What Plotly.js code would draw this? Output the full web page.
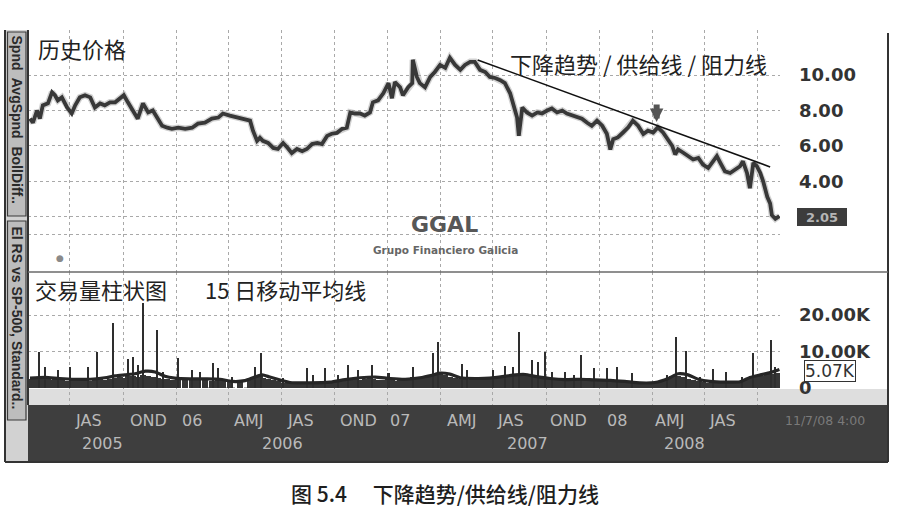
<!DOCTYPE html>
<html>
<head>
<meta charset="utf-8">
<script src="https://cdn.plot.ly/plotly-3.0.1.min.js"></script>
<style>html,body{margin:0;padding:0;background:#fff;}#chart{width:899px;height:532px;}</style>
</head>
<body>
<div id="chart"></div>
<script>
// ---- Price (GGAL) ----
const priceDates = ['2005-04-23','2005-04-28','2005-05-05','2005-05-10','2005-05-15','2005-05-24','2005-05-31','2005-06-05','2005-06-10','2005-06-17','2005-06-26','2005-07-04','2005-07-10','2005-07-18','2005-07-27','2005-08-05','2005-08-13','2005-08-22','2005-08-30','2005-09-08','2005-09-17','2005-09-25','2005-10-02','2005-10-09','2005-10-18','2005-10-26','2005-11-04','2005-11-13','2005-11-21','2005-11-30','2005-12-07','2005-12-16','2005-12-24','2006-01-04','2006-01-16','2006-01-28','2006-02-07','2006-02-19','2006-03-03','2006-03-14','2006-03-22','2006-04-03','2006-04-21','2006-05-08','2006-05-13','2006-05-20','2006-05-25','2006-05-30','2006-06-08','2006-06-17','2006-06-25','2006-07-04','2006-07-12','2006-07-19','2006-07-28','2006-08-06','2006-08-14','2006-08-23','2006-09-01','2006-09-09','2006-09-18','2006-09-26','2006-10-05','2006-10-14','2006-10-22','2006-10-28','2006-11-05','2006-11-14','2006-11-22','2006-12-01','2006-12-06','2006-12-15','2006-12-24','2007-01-02','2007-01-08','2007-01-13','2007-01-22','2007-01-27','2007-02-05','2007-02-12','2007-02-13','2007-02-20','2007-02-25','2007-03-06','2007-03-15','2007-03-23','2007-04-01','2007-04-10','2007-04-18','2007-04-27','2007-05-06','2007-05-14','2007-05-23','2007-05-31','2007-06-09','2007-06-18','2007-06-26','2007-07-05','2007-07-14','2007-07-22','2007-07-31','2007-08-05','2007-08-12','2007-08-15','2007-08-21','2007-08-29','2007-09-07','2007-09-16','2007-09-24','2007-10-03','2007-10-11','2007-10-20','2007-10-29','2007-11-06','2007-11-15','2007-11-24','2007-12-02','2007-12-11','2007-12-19','2007-12-28','2008-01-06','2008-01-14','2008-01-20','2008-01-25','2008-02-02','2008-02-11','2008-02-20','2008-02-28','2008-03-08','2008-03-17','2008-03-25','2008-04-03','2008-04-11','2008-04-20','2008-04-29','2008-05-06','2008-05-11','2008-05-16','2008-05-25','2008-06-02','2008-06-11','2008-06-20','2008-06-28','2008-07-07','2008-07-15','2008-07-22','2008-07-28','2008-08-05','2008-08-14','2008-08-22','2008-08-31','2008-09-05','2008-09-12','2008-09-17','2008-09-23','2008-09-29','2008-10-05','2008-10-10','2008-10-17','2008-10-22','2008-10-25','2008-10-31','2008-11-07'];
const priceValues = [7.54,7.31,8.00,7.54,8.29,8.40,9.03,8.86,8.57,8.74,8.17,7.83,8.29,8.74,8.86,8.74,8.17,8.40,8.29,8.46,8.46,8.69,8.86,8.46,8.00,7.54,8.40,7.89,8.00,7.54,7.14,7.03,6.97,7.03,6.97,7.03,7.26,7.31,7.54,7.60,7.83,7.71,7.54,7.43,6.86,6.29,6.46,6.29,6.17,5.89,5.83,6.17,5.89,5.60,5.83,5.71,5.83,6.11,6.17,6.11,6.57,6.69,6.74,6.97,7.03,7.89,7.83,7.83,7.71,7.89,8.46,8.57,8.97,9.54,8.69,9.60,9.31,8.86,9.31,9.54,10.86,9.89,9.54,9.31,9.89,10.17,10.57,10.40,10.97,10.57,10.29,10.57,10.74,10.74,10.29,10.17,9.89,9.83,9.71,9.54,8.97,8.40,7.60,6.57,8.17,7.89,7.71,7.89,7.83,8.00,8.11,7.89,8.00,7.83,7.71,7.60,7.54,7.31,7.14,7.43,7.14,6.69,5.80,6.38,6.48,6.76,7.05,7.43,7.14,6.67,6.86,6.76,7.05,6.76,6.29,6.00,5.52,5.81,5.62,5.43,5.24,5.33,4.95,4.76,5.14,5.43,5.05,4.57,4.48,4.67,4.86,5.14,4.48,3.62,5.05,4.86,4.48,4.00,3.14,2.76,2.10,1.90,2.05];

// ---- Volume (thousands of shares), typical level per period ----
const baseVolK = [2.4,2.8,3.0,2.6,2.9,2.5,2.2,2.6,2.4,2.2,2.0,2.3,2.1,2.4,2.2,2.0,2.3,2.5,2.2,2.6,2.8,3.0,2.7,3.2,3.4,3.0,3.6,3.3,3.1,2.8,2.6,2.4,2.2,2.6,2.3,2.1,2.4,2.2,2.0,2.3,1.9,1.6,1.8,2.2,2.6,3.0,3.2,2.8,2.6,2.2,1.8,1.5,1.3,1.2,1.3,1.2,1.4,1.2,1.3,1.4,1.5,1.6,1.8,2.0,2.3,2.6,2.4,2.2,2.5,2.7,2.5,2.3,2.1,2.4,2.2,2.0,2.3,2.5,2.7,2.6,3.0,2.8,2.6,2.9,3.2,3.6,3.9,3.5,3.0,2.7,2.5,2.4,2.2,2.3,2.5,2.4,2.6,2.8,3.0,3.2,3.4,3.6,3.8,3.6,3.4,3.2,3.0,2.8,2.6,2.4,2.3,2.2,2.1,2.2,2.3,2.1,2.4,2.2,2.0,2.1,2.3,2.2,2.4,2.2,2.0,1.8,1.6,1.5,1.3,1.2,1.3,1.4,1.6,2.2,2.8,3.2,3.4,3.2,3.0,2.6,2.2,1.8,1.6,1.4,1.5,1.3,1.4,1.3,1.4,1.3,1.5,1.8,2.4,3.0,3.2,3.0,3.2,3.4,3.6,3.8,3.5,3.8,4.0];

// ---- Volume peak days ----
const spikeDates = ['2005-05-08','2005-05-19','2005-06-10','2005-07-01','2005-08-01','2005-08-17','2005-09-13','2005-10-09','2005-10-18','2005-10-26','2005-11-04','2005-11-28','2005-12-09','2006-01-04','2006-01-28','2006-02-11','2006-03-05','2006-03-14','2006-04-07','2006-05-16','2006-05-27','2006-07-04','2006-08-14','2006-08-25','2006-09-14','2006-10-07','2006-10-24','2006-11-10','2006-12-05','2007-01-02','2007-02-13','2007-03-20','2007-03-29','2007-05-09','2007-05-18','2007-07-02','2007-07-22','2007-08-05','2007-08-15','2007-09-07','2007-09-17','2007-09-29','2007-10-11','2007-11-03','2007-11-18','2007-11-30','2007-12-23','2008-01-14','2008-02-01','2008-02-27','2008-04-27','2008-05-13','2008-05-30','2008-06-23','2008-07-15','2008-08-07','2008-09-04','2008-09-23','2008-10-24','2008-10-31'];
const spikeK = [9.9,5.8,4.9,5.8,5.8,9.9,17.8,7.9,8.5,6.3,23.3,15.9,4.4,8.2,4.9,4.4,6.8,5.5,3.0,5.8,9.6,2.7,5.5,3.6,5.5,3.6,6.3,4.9,6.3,4.1,5.8,9.6,12.6,6.6,4.9,4.9,6.0,5.8,15.3,7.7,7.1,9.9,4.4,4.4,3.6,9.0,5.5,5.5,5.8,4.1,3.6,14.0,10.1,3.0,5.2,4.4,3.0,9.6,13.2,5.8];

// ---- 15-day moving average of volume ----
const maDates = ['2005-04-23','2005-05-19','2005-06-13','2005-07-10','2005-08-05','2005-08-30','2005-09-17','2005-10-04','2005-10-21','2005-11-08','2005-11-25','2005-12-12','2005-12-29','2006-01-24','2006-02-19','2006-03-17','2006-04-07','2006-04-29','2006-05-16','2006-05-29','2006-06-11','2006-06-29','2006-07-16','2006-08-19','2006-09-23','2006-10-19','2006-11-14','2006-12-10','2007-01-05','2007-01-31','2007-02-25','2007-03-18','2007-04-01','2007-04-18','2007-05-06','2007-05-31','2007-06-26','2007-07-22','2007-08-09','2007-08-26','2007-09-12','2007-10-08','2007-11-03','2007-11-29','2007-12-25','2008-01-20','2008-02-14','2008-03-11','2008-04-06','2008-04-29','2008-05-16','2008-06-02','2008-06-20','2008-07-10','2008-08-05','2008-08-31','2008-09-17','2008-10-05','2008-10-22','2008-11-07'];
const maK = [2.7,2.9,2.6,2.4,2.4,2.8,3.3,3.6,3.9,4.6,4.4,3.2,2.7,2.5,2.5,2.4,1.8,2.0,3.0,3.6,3.0,2.2,1.5,1.4,1.6,2.3,2.8,3.0,2.6,2.4,2.8,3.5,4.1,3.8,2.8,2.6,2.7,3.2,3.6,3.7,3.2,2.6,2.3,2.4,2.2,2.1,1.8,1.4,1.5,2.6,3.9,3.6,2.4,1.8,1.6,1.7,2.9,3.6,4.2,5.07];

// ---- Downtrend / supply / resistance line ----
const trendDates = ['2007-06-05','2008-10-22'];
const trendValues = [10.85, 4.82];

// ---- Axis labels ----
const priceTicks = [1, 2, 4, 6, 8, 10];
const priceTickText = ['', '', '4.00', '6.00', '8.00', '10.00'];
const volTicks = [0, 10, 20];
const volTickText = ['0', '10.00K', '20.00K'];
const quarterLabels = ['JAS','OND','06','AMJ','JAS','OND','07','AMJ','JAS','OND','08','AMJ','JAS'];
const quarterLabelDates = ['2005-07-06','2005-10-09','2006-01-07','2006-04-07','2006-07-07','2006-10-07','2007-01-01','2007-04-10','2007-07-05','2007-10-04','2008-01-11','2008-04-03','2008-07-05'];
const yearLabels = ['2005','2006','2007','2008'];
const yearLabelDates = ['2005-07-18','2006-05-25','2007-07-22','2008-04-18'];
const lastPrice = 2.05;
const lastMA = 5.07;

const W = 899, H = 532;
const px = x => x / W;
const py = y => 1 - y / H;
const CJK = '"Noto Sans CJK SC", "Noto Sans CJK JP", sans-serif';
const DV = '"DejaVu Sans", sans-serif';
const LIB = '"Liberation Sans", Arial, sans-serif';

const traces = [
  { type: 'bar', x: priceDates, y: baseVolK, yaxis: 'y2', width: 11 * 86400000,
    marker: { color: '#363636', line: { width: 0 } }, hoverinfo: 'x+y' },
  { type: 'bar', x: spikeDates, y: spikeK, yaxis: 'y2', width: 3.5 * 86400000,
    marker: { color: '#2e2e2e', line: { width: 0 } }, hoverinfo: 'x+y' },
  { type: 'scatter', mode: 'lines', x: maDates, y: maK, yaxis: 'y2',
    line: { color: '#262626', width: 3.2, shape: 'spline', smoothing: 0.6 } },
  { type: 'scatter', mode: 'lines', x: priceDates, y: priceValues, yaxis: 'y',
    line: { color: '#9a9a9a', width: 6.5 }, opacity: 0.45, hoverinfo: 'skip' },
  { type: 'scatter', mode: 'lines', x: priceDates, y: priceValues, yaxis: 'y',
    line: { color: '#383838', width: 3.8 } },
  { type: 'scatter', mode: 'lines', x: trendDates, y: trendValues, yaxis: 'y',
    line: { color: '#111', width: 1.6 } }
];

const annotations = [
  { xref: 'paper', yref: 'paper', x: px(36), y: py(48), xanchor: 'left', yanchor: 'middle', showarrow: false,
    text: '历史价格', font: { family: CJK, size: 22, color: '#222' } },
  { xref: 'paper', yref: 'paper', x: px(508), y: py(63), xanchor: 'left', yanchor: 'middle', showarrow: false,
    text: '下降趋势 / 供给线 / 阻力线', font: { family: CJK, size: 22, color: '#222' } },
  { xref: 'paper', yref: 'paper', x: px(33), y: py(289), xanchor: 'left', yanchor: 'middle', showarrow: false,
    text: '交易量柱状图', font: { family: CJK, size: 22, color: '#222' } },
  { xref: 'paper', yref: 'paper', x: px(203), y: py(289), xanchor: 'left', yanchor: 'middle', showarrow: false,
    text: '15 日移动平均线', font: { family: CJK, size: 22, color: '#222' } },
  { xref: 'paper', yref: 'paper', x: px(444), y: py(225), xanchor: 'center', yanchor: 'middle', showarrow: false,
    text: 'GGAL', font: { family: DV, size: 22, color: '#575757', weight: 'bold' } },
  { xref: 'paper', yref: 'paper', x: px(445), y: py(250), xanchor: 'center', yanchor: 'middle', showarrow: false,
    text: 'Grupo Financiero Galicia', font: { family: DV, size: 10.5, color: '#666', weight: 'bold' } },
  { xref: 'paper', yref: 'paper', x: px(822), y: py(217), xanchor: 'center', yanchor: 'middle', showarrow: false,
    text: lastPrice.toFixed(2), bgcolor: '#3c3c3c', bordercolor: '#3c3c3c', borderpad: 1, width: 46, height: 14,
    font: { family: DV, size: 13, color: '#b5b5b5', weight: 'bold' } },
  { xref: 'paper', yref: 'paper', x: px(830), y: py(371), xanchor: 'center', yanchor: 'middle', showarrow: false,
    text: lastMA.toFixed(2) + 'K', bgcolor: '#fff', bordercolor: '#333', borderwidth: 1, borderpad: 0,
    font: { family: DV, size: 17, color: '#333' } },
  { xref: 'x', yref: 'y', x: '2008-04-09', y: 7.35, ax: 0, ay: -19, showarrow: true, text: '',
    arrowhead: 2, arrowsize: 0.45, arrowwidth: 6, arrowcolor: '#555' },
  { xref: 'paper', yref: 'paper', x: px(60), y: py(258), xanchor: 'center', yanchor: 'middle', showarrow: false,
    text: '●', font: { family: DV, size: 9, color: '#8a8a8a' } },
  { xref: 'paper', yref: 'paper', x: px(783), y: py(420), xanchor: 'left', yanchor: 'middle', showarrow: false,
    text: '11/7/08 4:00', font: { family: DV, size: 12.5, color: '#7a7a7a' } },
  { xref: 'paper', yref: 'paper', x: px(16.5), y: py(120), xanchor: 'center', yanchor: 'middle', showarrow: false,
    textangle: 90, text: 'Spnd  AvgSpnd  BollDiff..', font: { family: LIB, size: 14, color: '#2a2a2a', weight: 'bold' } },
  { xref: 'paper', yref: 'paper', x: px(16.5), y: py(318), xanchor: 'center', yanchor: 'middle', showarrow: false,
    textangle: 90, text: 'El RS vs SP-500, Standard..', font: { family: LIB, size: 14, color: '#2a2a2a', weight: 'bold' } },
  { xref: 'paper', yref: 'paper', x: px(445), y: py(493), xanchor: 'center', yanchor: 'middle', showarrow: false,
    text: '图 5.4　 下降趋势/供给线/阻力线', font: { family: CJK, size: 21, color: '#1e1e1e', weight: 500 } }
];
quarterLabels.forEach((t, i) => annotations.push({
  xref: 'x', yref: 'paper', x: quarterLabelDates[i], y: py(420), xanchor: 'left', yanchor: 'middle', showarrow: false,
  text: t, font: { family: DV, size: 16, color: '#b9b9b9' } }));
yearLabels.forEach((t, i) => annotations.push({
  xref: 'x', yref: 'paper', x: yearLabelDates[i], y: py(443), xanchor: 'left', yanchor: 'middle', showarrow: false,
  text: t, font: { family: DV, size: 16, color: '#b9b9b9' } }));

const shapes = [
  { type: 'rect', xref: 'paper', yref: 'paper', x0: px(28), x1: px(888), y0: py(405), y1: py(389),
    fillcolor: '#dedede', line: { width: 0 }, layer: 'below' },
  { type: 'rect', xref: 'paper', yref: 'paper', x0: px(28), x1: px(888), y0: py(462), y1: py(405),
    fillcolor: '#3e3e3e', line: { width: 0 }, layer: 'above' },
  { type: 'rect', xref: 'paper', yref: 'paper', x0: px(5), x1: px(28), y0: py(462), y1: py(30),
    fillcolor: '#d2d2d2', line: { width: 0 }, layer: 'above' },
  { type: 'rect', xref: 'paper', yref: 'paper', x0: px(7.5), x1: px(26), y0: py(216), y1: py(32),
    fillcolor: '#bdbdbd', line: { color: '#3a3a3a', width: 1.2 }, layer: 'above' },
  { type: 'rect', xref: 'paper', yref: 'paper', x0: px(7.5), x1: px(26), y0: py(420), y1: py(221),
    fillcolor: '#bdbdbd', line: { color: '#3a3a3a', width: 1.2 }, layer: 'above' },
  { type: 'line', xref: 'paper', yref: 'paper', x0: px(5), x1: px(5), y0: py(462), y1: py(30), line: { color: '#333', width: 2 }, layer: 'above' },
  { type: 'line', xref: 'paper', yref: 'paper', x0: px(28), x1: px(28), y0: py(405), y1: py(30), line: { color: '#333', width: 2 }, layer: 'above' },
  { type: 'line', xref: 'paper', yref: 'paper', x0: px(888), x1: px(888), y0: py(462), y1: py(33), line: { color: '#333', width: 2 }, layer: 'above' },
  { type: 'line', xref: 'paper', yref: 'paper', x0: px(5), x1: px(888), y0: py(462), y1: py(462), line: { color: '#333', width: 2 }, layer: 'above' },
  { type: 'line', xref: 'paper', yref: 'paper', x0: px(28), x1: px(888), y0: py(272), y1: py(272), line: { color: '#6a6a6a', width: 1.6 }, layer: 'above' }
];

const gridStyle = { showgrid: true, gridcolor: '#a9a9a9', gridwidth: 1, griddash: 'dot' };

const layout = {
  width: W, height: H,
  margin: { l: 0, r: 0, t: 0, b: 0 },
  paper_bgcolor: '#fff', plot_bgcolor: '#fff',
  showlegend: false,
  barmode: 'overlay', bargap: 0,
  xaxis: Object.assign({
    type: 'date', domain: [px(28), px(780)], range: ['2005-04-19 12:00', '2008-11-08'],
    tickmode: 'linear', tick0: '2005-01-01', dtick: 'M3',
    showticklabels: false, ticks: '', zeroline: false, showline: false, anchor: 'y2'
  }, gridStyle),
  yaxis: Object.assign({
    domain: [py(272), py(30)], range: [-1.099, 12.535], side: 'right', anchor: 'x',
    tickmode: 'array', tickvals: priceTicks, ticktext: priceTickText, ticks: '',
    ticklabelstandoff: 18, zeroline: false, showline: false,
    tickfont: { family: DV, size: 18, color: '#333', weight: 'bold' }
  }, gridStyle),
  yaxis2: Object.assign({
    domain: [py(405), py(272)], range: [-4.66, 31.78], side: 'right', anchor: 'x',
    tickmode: 'array', tickvals: volTicks, ticktext: volTickText, ticks: '',
    ticklabelstandoff: 18, zeroline: false, showline: false,
    tickfont: { family: DV, size: 18, color: '#333', weight: 'bold' }
  }, gridStyle),
  annotations: annotations,
  shapes: shapes
};

Plotly.newPlot('chart', traces, layout, { displayModeBar: false, staticPlot: true });
</script>
</body>
</html>
